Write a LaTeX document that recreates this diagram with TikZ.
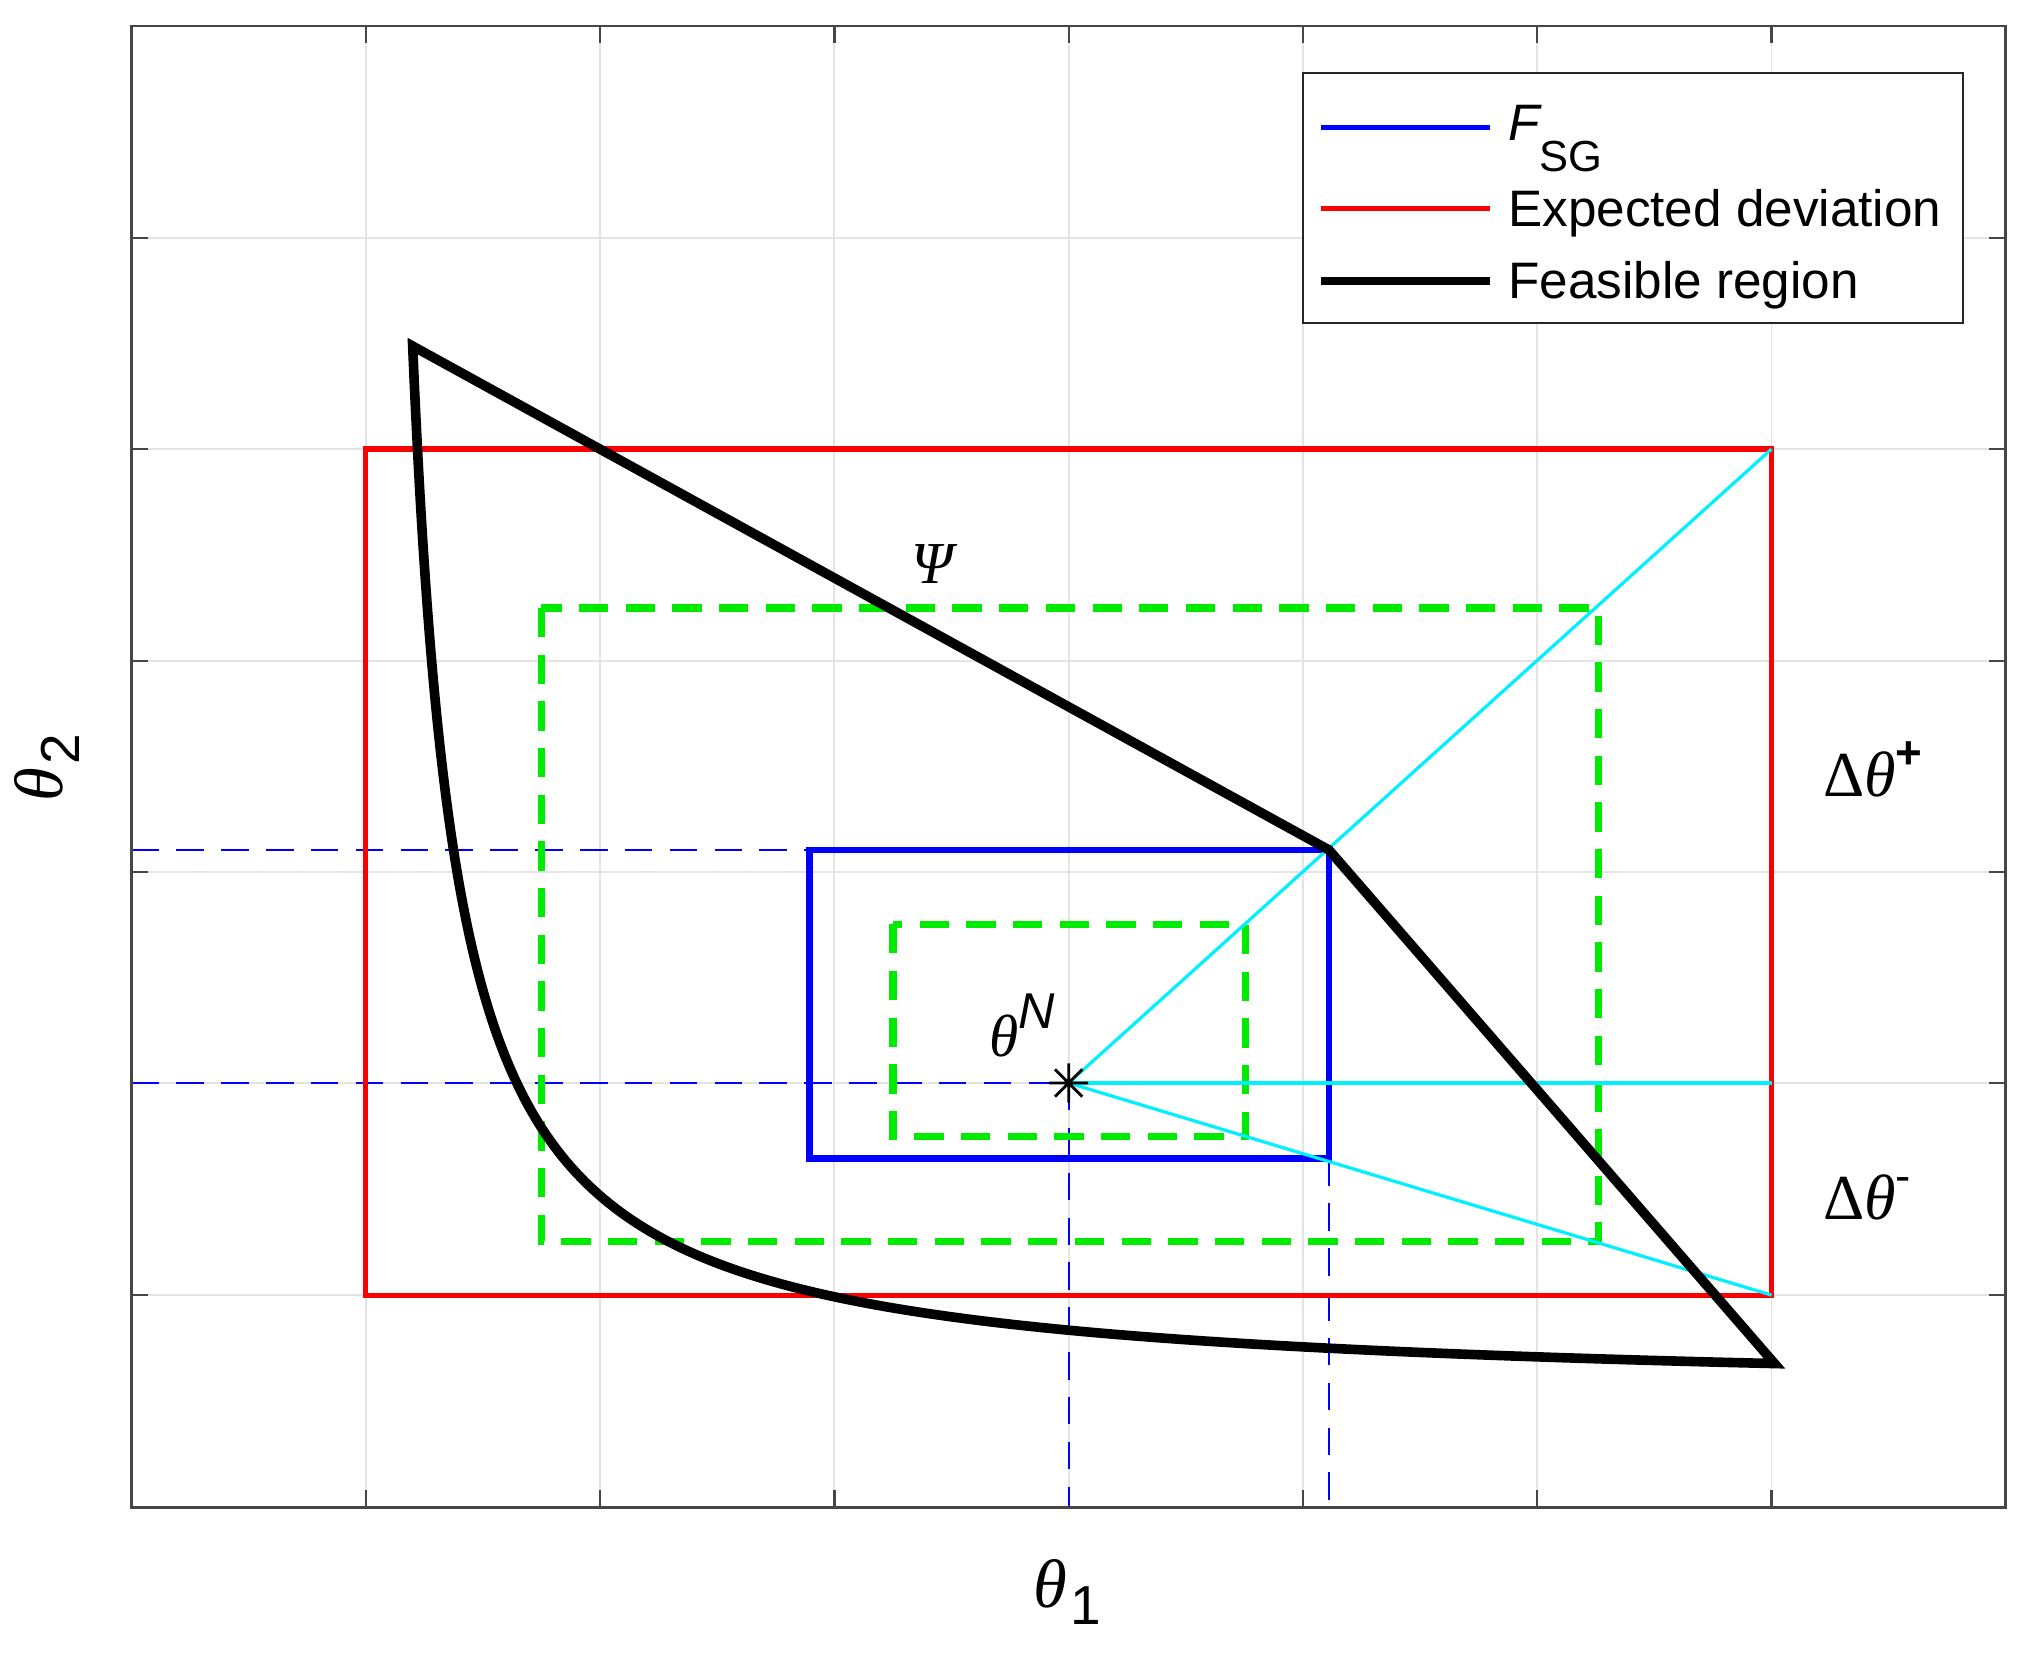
\documentclass[tikz,border=0pt]{standalone}
\usepackage{fontspec}
\setmainfont{Liberation Sans}
\newfontfamily\grk{Liberation Serif}
\definecolor{gridc}{RGB}{228,228,228}
\definecolor{axc}{RGB}{70,70,70}
\definecolor{pureR}{RGB}{255,0,0}
\definecolor{pureB}{RGB}{0,0,255}
\definecolor{pureG}{RGB}{0,235,0}
\definecolor{pureC}{RGB}{0,240,255}
\tikzset{
  gridline/.style={draw=gridc, line width=0.4pt},
  axisline/.style={draw=axc, line width=0.6pt},
  tickline/.style={draw=axc, line width=0.5pt},
  devrect/.style={draw=pureR, line width=1.15pt},
  fsgrect/.style={draw=pureB, line width=1.45pt},
  greendash/.style={draw=pureG, line width=1.6pt, dash pattern=on 6.4pt off 3.8pt},
  proj/.style={draw=pureB, line width=0.45pt, dash pattern=on 6pt off 3.8pt},
  cyanline/.style={draw=pureC, line width=0.7pt},
  feas/.style={draw=black, line width=2.1pt, line join=miter, miter limit=6},
  legendbox/.style={draw=black!85, fill=white, line width=0.45pt},
  legtext/.style={anchor=base west, inner sep=0pt, font=\fontsize{11.2}{13}\selectfont},
  mathlab/.style={inner sep=0pt, font=\fontsize{13}{15}\selectfont},
}
\begin{document}
\begin{tikzpicture}[x=0.01cm, y=-0.01cm]
\useasboundingbox (0,0) rectangle (1568,1279);
% grid
\foreach \gx in {281,461,641,821,1001,1181,1361}
  \draw[gridline] (\gx,20) -- (\gx,1158);
\foreach \gy in {183,345,508,670,832,995}
  \draw[gridline] (101,\gy) -- (1541,\gy);
% ticks
\foreach \gx in {281,461,641,821,1001,1181,1361}{
  \draw[tickline] (\gx,1158) -- (\gx,1145);
  \draw[tickline] (\gx,20) -- (\gx,33);}
\foreach \gy in {183,345,508,670,832,995}{
  \draw[tickline] (101,\gy) -- (114,\gy);
  \draw[tickline] (1541,\gy) -- (1528,\gy);}
% key points
\coordinate (N) at (821,832);
\coordinate (rTL) at (281,345);
\coordinate (rTR) at (1361,345);
\coordinate (rBR) at (1361,995);
\coordinate (rR) at (1361,832);
\coordinate (bTL) at (622,653);
\coordinate (bTR) at (1021,653);
\coordinate (bBR) at (1021,890);
\coordinate (axL1) at (101,653);
\coordinate (axL2) at (101,832);
\coordinate (axB1) at (821,1158);
\coordinate (axB2) at (1021,1158);
% projection dashed lines
\draw[proj] (axL1) -- (bTL);
\draw[proj] (axL2) -- (N);
\draw[proj] (N) -- (axB1);
\draw[proj] (bBR) -- (axB2);
% expected deviation
\draw[devrect] (rTL) rectangle (rBR);
% green dashed
\draw[greendash] (416,467) rectangle (1228,954);
\draw[greendash] (686,710) rectangle (957,873);
% F_SG
\draw[fsgrect] (bTL) rectangle (bBR);
% cyan
\draw[cyanline] (N) -- (rTR);
\draw[cyanline] (N) -- (rR);
\draw[cyanline] (N) -- (rBR);
% feasible region
\draw[feas] plot[domain=0:1, samples=160, variable=\t]
  ({283+exp(6.985-3.459*\t)}, {1073-27.472*exp(6.9078-6.985+3.459*\t)})
  -- (bTR) -- cycle;
% nominal point marker
\draw[black, line width=0.6pt] (806,832) -- (836,832) (821,817) -- (821,847)
  (810.5,821.5) -- (831.5,842.5) (810.5,842.5) -- (831.5,821.5);
% axes box
\draw[axisline] (101,20) rectangle (1541,1158);
% labels
\node[mathlab] (psi) at (716,433) {\grk\itshape Ψ};
\node[mathlab, anchor=base] (thN) at (785,812) {\grk\itshape θ\raisebox{1.05ex}{\fontsize{11}{12}\selectfont\rmfamily\itshape N}};
\node[mathlab, anchor=base west, font=\fontsize{14}{16}\selectfont] (dplus) at (1400,612) {\grk Δ\itshape θ\raisebox{0.95ex}{\fontsize{10}{11}\selectfont\rmfamily\upshape\bfseries +}};
\node[mathlab, anchor=base west, font=\fontsize{14}{16}\selectfont] (dminus) at (1400,937) {\grk Δ\itshape θ\raisebox{0.95ex}{\fontsize{10}{11}\selectfont\rmfamily\upshape -}};
\node[mathlab, anchor=base, font=\fontsize{15}{17}\selectfont] (xlab) at (820,1235) {\grk\itshape θ\kern0.05em\raisebox{-0.55ex}{\fontsize{12}{13}\selectfont\rmfamily\upshape 1}};
\node[mathlab, anchor=base, rotate=90, font=\fontsize{15}{17}\selectfont] (ylab) at (48,590) {\grk\itshape θ\kern0.05em\raisebox{-0.55ex}{\fontsize{12}{13}\selectfont\rmfamily\upshape 2}};
% legend
\draw[legendbox] (1001,56) rectangle (1508,248);
\draw[draw=pureB, line width=1.15pt] (1015,98) -- (1145,98);
\draw[draw=pureR, line width=1.15pt] (1015,160) -- (1145,160);
\draw[draw=black, line width=1.8pt] (1015,216) -- (1145,216);
\node[legtext] (lg1) at (1158,108) {\itshape F\upshape\raisebox{-1.15ex}{\fontsize{9.5}{10}\selectfont SG}};
\node[legtext] (lg2) at (1158,174) {Expected deviation};
\node[legtext] (lg3) at (1158,229) {Feasible region};
\end{tikzpicture}
\end{document}
